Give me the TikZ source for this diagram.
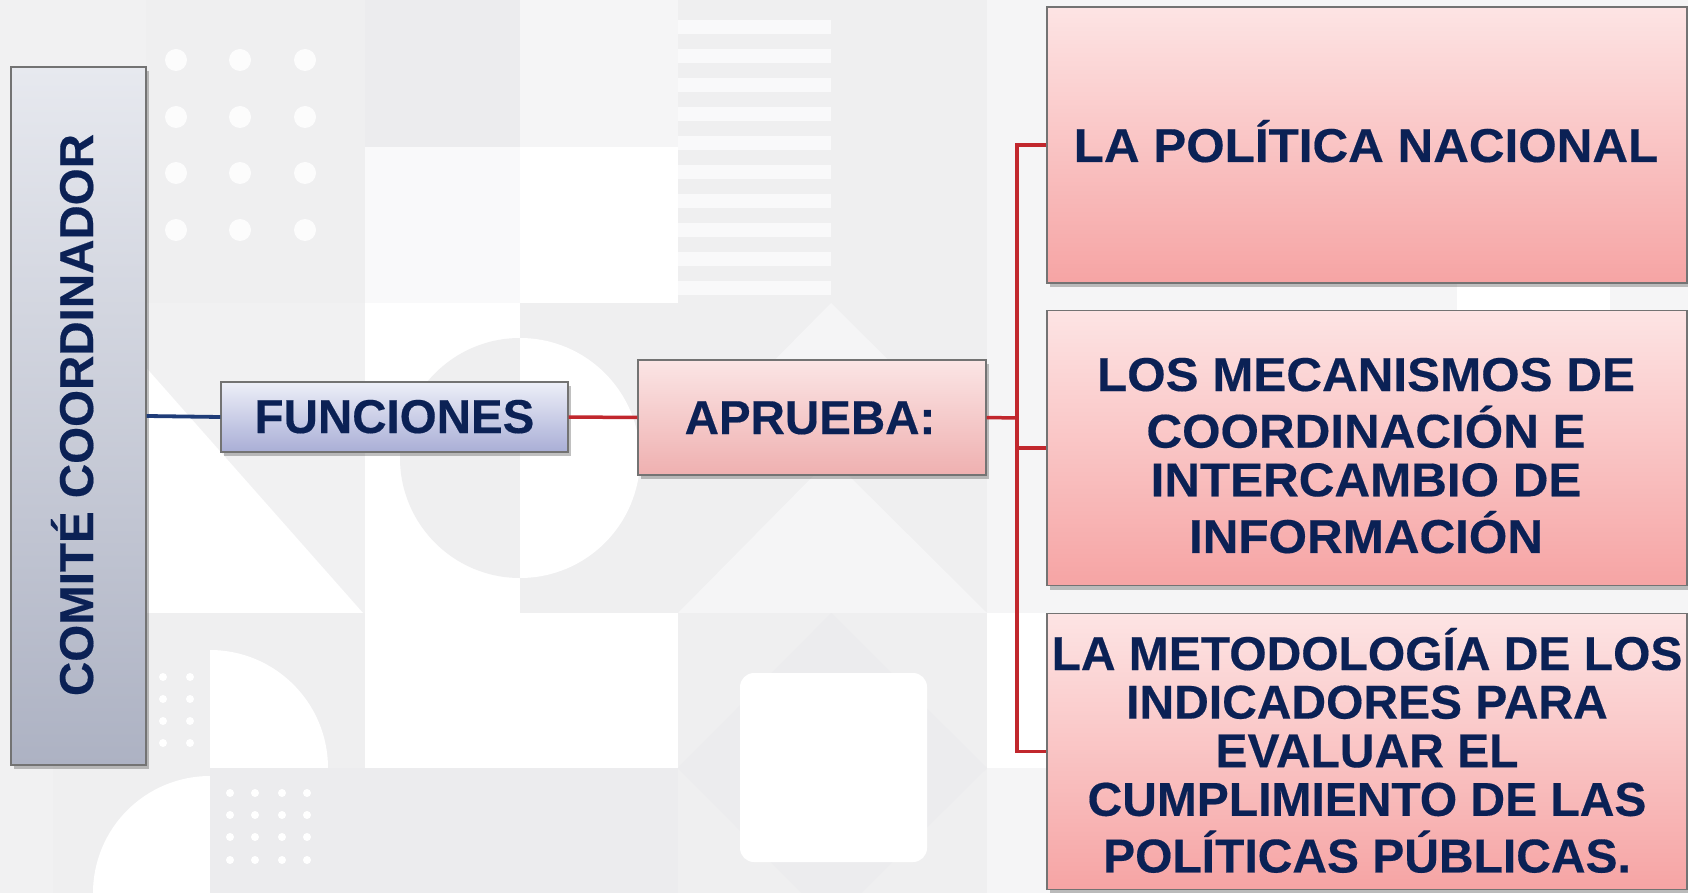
\documentclass[tikz,border=0pt]{standalone}
\usepackage{fontspec}
\setmainfont{Liberation Sans}
\newfontfamily\ftxt{Liberation Sans}[FakeBold=0.35]
\newfontfamily\ftxtw{Liberation Sans}[FakeBold=0.35, FakeStretch=1.04]
\newfontfamily\ftxtm{Liberation Sans}[FakeBold=0.35, FakeStretch=1.01]
\usetikzlibrary{shadows}
\definecolor{navy}{HTML}{0B2155}
\definecolor{redl}{HTML}{C1272D}
\definecolor{bluel}{HTML}{1F3C78}
\definecolor{pinkt}{HTML}{FDE4E4}
\definecolor{pinkb}{HTML}{F6A4A4}
\definecolor{apt}{HTML}{FBE5E5}
\definecolor{apb}{HTML}{EFB0B0}
\definecolor{grt}{HTML}{E7E9EF}
\definecolor{grb}{HTML}{ADB2C3}
\definecolor{blt}{HTML}{EDEFF8}
\definecolor{blb}{HTML}{A9AED6}
\definecolor{bgbase}{HTML}{F1F1F2}
\definecolor{bgd}{HTML}{ECECEE}
\definecolor{bgm}{HTML}{EFEFF0}
\definecolor{bgl}{HTML}{F5F5F6}
\definecolor{bgx}{HTML}{F9F9FA}
\tikzset{
  boxbase/.style={draw=black!55, line width=1.2pt, inner sep=0pt,
    drop shadow={shadow xshift=3pt, shadow yshift=-4pt, opacity=0.35, fill=black!70}},
  pinkbox/.style={boxbase, top color=pinkt, bottom color=pinkb},
  aprbox/.style={boxbase, top color=apt, bottom color=apb},
  greybox/.style={boxbase, top color=grt, bottom color=grb},
  bluebox/.style={boxbase, top color=blt, bottom color=blb},
  txt/.style={text=navy, inner sep=0pt, font=\ftxt\bfseries\fontsize{47.5}{48.6}\selectfont},
  wtxt/.style={text=navy, inner sep=0pt, font=\ftxtw\bfseries\fontsize{47.5}{48.6}\selectfont},
  mtxt/.style={text=navy, inner sep=0pt, font=\ftxtm\bfseries\fontsize{47.5}{48.6}\selectfont},
  redline/.style={draw=redl, line width=3.5pt},
  blueline/.style={draw=bluel, line width=3.8pt},
}
\begin{document}
\begin{tikzpicture}[x=1pt,y=1pt]
\useasboundingbox (0,0) rectangle (1688,-893);
% ---------- background ----------
\fill[bgbase] (0,0) rectangle (1688,-893);
% top row cells
\fill[bgm] (146,0) rectangle (365,-303);
\foreach \x in {176,240,305} \foreach \y in {60,117,173,230} \fill[white,opacity=0.85] (\x,-\y) circle (11);
\fill[bgd] (365,0) rectangle (520,-147);
\fill[bgl] (520,0) rectangle (678,-147);
\fill[bgx] (365,-147) rectangle (520,-303);
\fill[white] (520,-147) rectangle (678,-303);
\fill[bgm] (678,0) rectangle (831,-303);
\foreach \i in {0,...,9} \fill[bgx] (678,-20-\i*29) rectangle (831,-34-\i*29);
\fill[bgm] (831,0) rectangle (987,-303);
% split circle row
\fill[white] (365,-303) rectangle (520,-613);
\fill[bgm] (520,-303) rectangle (678,-613);
\begin{scope}
  \clip (365,-303) rectangle (520,-613);
  \fill[bgm] (520,-458) circle (120);
\end{scope}
\begin{scope}
  \clip (520,-303) rectangle (678,-613);
  \fill[white] (520,-458) circle (120);
\end{scope}
% white triangle
\fill[white] (89,-303) -- (363,-613) -- (53,-613) -- (53,-303) -- cycle;
% middle right area
\fill[bgm] (678,-303) rectangle (987,-893);
\fill[bgl] (678,-613) -- (831,-458) -- (987,-613) -- cycle;
\fill[bgl] (678,-458) -- (831,-303) -- (987,-458) -- cycle;
\fill[bgd] (831,-613) -- (987,-768) -- (831,-923) -- (678,-768) -- cycle;
\fill[white, rounded corners=14pt] (740,-673) rectangle (927,-862);
% lower cells
\fill[white] (365,-613) rectangle (678,-768);
\fill[bgd] (365,-768) rectangle (678,-893);
% bottom-left
\fill[bgm] (53,-613) rectangle (365,-768);
\fill[white] (210,-768) -- (210,-650) arc[start angle=90, end angle=0, radius=118] -- cycle;
\foreach \x in {163,190} \foreach \y in {677,699,721,743} \fill[white] (\x,-\y) circle (4);
\fill[bgm] (53,-768) rectangle (210,-893);
\fill[white] (210,-893) -- (93,-893) arc[start angle=180, end angle=90, radius=117] -- cycle;
\fill[bgd] (210,-768) rectangle (365,-893);
\foreach \x in {230,255,282,307} \foreach \y in {793,815,837,860} \fill[white] (\x,-\y) circle (4);
% right side
\fill[bgl] (987,0) rectangle (1688,-893);
\fill[white] (987,-613) rectangle (1047,-768);
\fill[white] (1457,-283) rectangle (1610,-311);
% ---------- nodes ----------
\node[greybox, minimum width=135pt, minimum height=698pt] (comite) at (78.5,-416) {};
\node[txt, rotate=90, anchor=base] (comitetxt) at (93,-415) {COMITÉ COORDINADOR};

\node[bluebox, minimum width=347pt, minimum height=70pt] (funciones) at (394.5,-417) {};
\node[txt, anchor=base] (funcionestxt) at (394.5,-433) {FUNCIONES};

\node[aprbox, minimum width=348pt, minimum height=115pt] (aprueba) at (812,-417.5) {};
\node[txt, anchor=base] (apruebatxt) at (810,-434) {APRUEBA:};

\node[pinkbox, minimum width=640pt, minimum height=276pt] (box1) at (1367,-145) {};
\node[wtxt, anchor=base] (box1txt) at (1366,-162) {LA POLÍTICA NACIONAL};

\node[pinkbox, minimum width=640pt, minimum height=275pt] (box2) at (1367,-448) {};
\node[wtxt, anchor=base] (box2txt) at (1366,-391)
  {\setlength{\tabcolsep}{0pt}\begin{tabular}[t]{c}LOS MECANISMOS DE\\ COORDINACIÓN E\\ INTERCAMBIO DE\\ INFORMACIÓN\end{tabular}};

\node[pinkbox, minimum width=640pt, minimum height=276pt] (box3) at (1367,-751.5) {};
\node[mtxt, anchor=base] (box3txt) at (1367,-670)
  {\setlength{\tabcolsep}{0pt}\begin{tabular}[t]{c}LA METODOLOGÍA DE LOS\\ INDICADORES PARA\\ EVALUAR EL\\ CUMPLIMIENTO DE LAS\\ POLÍTICAS PÚBLICAS.\end{tabular}};

% ---------- connectors ----------
\coordinate (j) at (1017,-418);
\draw[blueline] (comite.east) -- (funciones.west);
\draw[redline] (funciones.east) -- (aprueba.west);
\draw[redline] (aprueba.east) -- (j);
\draw[redline] (box1.west) -| (j |- box3.west) -- (box3.west);
\draw[redline] (j |- box2.west) -- (box2.west);
\end{tikzpicture}
\end{document}
